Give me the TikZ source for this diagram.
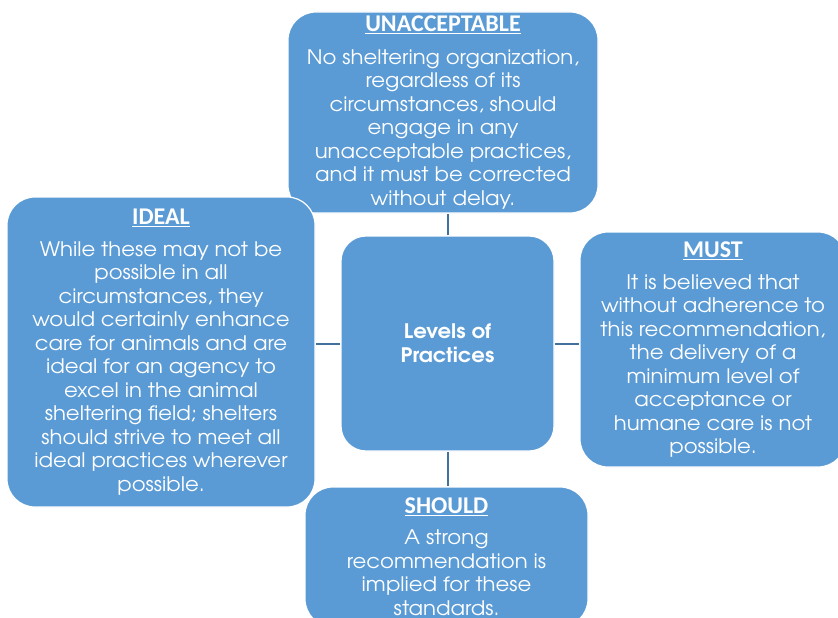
\documentclass[tikz,border=0pt]{standalone}
\usepackage{fontspec}
\newfontfamily\bodyfont[FakeStretch=1.06]{TeX Gyre Adventor}
\newfontfamily\titlefont{Carlito}
\definecolor{boxblue}{HTML}{5B9BD5}
\definecolor{linkblue}{HTML}{41719C}
\newcommand\boxtitle[1]{{\titlefont\bfseries\fontsize{24}{24}\selectfont\underline{#1}}}
\begin{document}
\begin{tikzpicture}[x=1pt,y=-1pt,
  box/.style={draw=white, line width=1.2pt, fill=boxblue, rounded corners=28pt,
    text=white, align=center, inner sep=0pt,
    font=\bodyfont\fontsize{20}{23.5}\selectfont},
  hub/.style={box, rounded corners=25pt, font=\bodyfont\bfseries\fontsize{20}{24}\selectfont},
  link/.style={draw=linkblue, line width=2pt}]
\useasboundingbox (0,0) rectangle (838,618);
\clip (0,0) rectangle (838,618);

\node[hub, minimum width=213pt, minimum height=215pt] (c) at (447.5,343.5) {Levels of\\Practices};

\node[box, minimum width=310pt, minimum height=201pt] (top) at (443,112.5)
 {\boxtitle{UNACCEPTABLE}\\[9pt]
  No sheltering organization,\\
  regardless of its\\
  circumstances, should\\
  engage in any\\
  unacceptable practices,\\
  and it must be corrected\\
  without delay.};

\node[box, minimum width=308pt, minimum height=310pt] (ideal) at (161,352)
 {\boxtitle{IDEAL}\\[8.5pt]
  While these may not be\\
  possible in all\\
  circumstances, they\\
  would certainly enhance\\
  care for animals and are\\
  ideal for an agency to\\
  excel in the animal\\
  sheltering field; shelters\\
  should strive to meet all\\
  ideal practices wherever\\
  possible.};

\node[box, minimum width=266pt, minimum height=235pt] (must) at (713,349.5)
 {\boxtitle{MUST}\\[8.5pt]
  It is believed that\\
  without adherence to\\
  this recommendation,\\
  the delivery of a\\
  minimum level of\\
  acceptance or\\
  humane care is not\\
  possible.};

\node[box, minimum width=283pt, minimum height=140pt] (should) at (446.5,557)
 {\boxtitle{SHOULD}\\[7.5pt]
  A strong\\
  recommendation is\\
  implied for these\\
  standards.};

\draw[link] (c.north) -- (c.north |- top.south);
\draw[link] (c.south) -- (c.south |- should.north);
\draw[link] (c.west) -- (c.west -| ideal.east);
\draw[link] (c.east) -- (c.east -| must.west);
\end{tikzpicture}
\end{document}
